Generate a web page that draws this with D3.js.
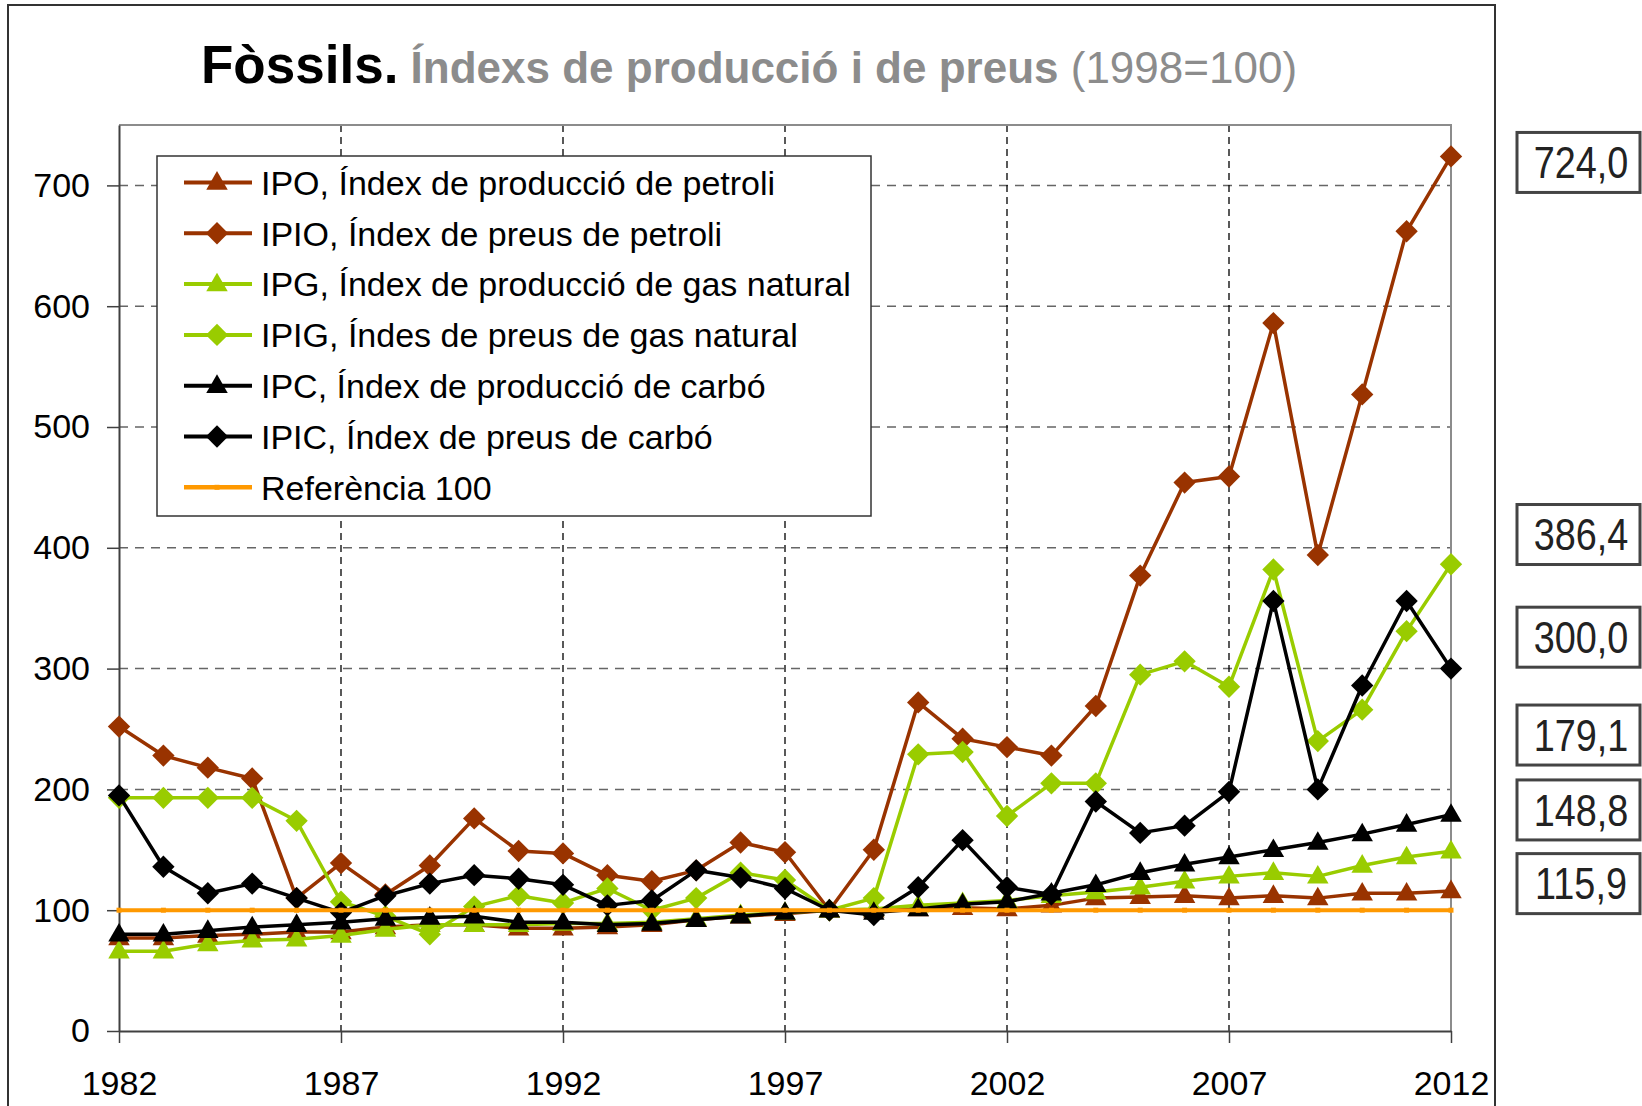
<!DOCTYPE html>
<html>
<head>
<meta charset="utf-8">
<script src="https://cdn.jsdelivr.net/npm/d3@7/dist/d3.min.js"></script>
<style>
  body { margin: 0; background: #fff; }
  svg { display: block; font-family: "Liberation Sans", Arial, sans-serif; }
</style>
</head>
<body>
<div id="chart"></div>
<script>
// --- data (1998 = 100) ---
var years = [1982, 1983, 1984, 1985, 1986, 1987, 1988, 1989, 1990, 1991,
             1992, 1993, 1994, 1995, 1996, 1997, 1998, 1999, 2000, 2001,
             2002, 2003, 2004, 2005, 2006, 2007, 2008, 2009, 2010, 2011, 2012];

var ipo  = [77, 77, 79, 80, 82, 82, 86, 88, 88, 85, 85, 86, 88, 92, 95, 97,
            100, 100, 101, 102, 101, 104, 110, 111, 112, 110, 112, 110, 114, 114, 115.9];
var ipio = [252, 228, 218, 209, 110, 139, 113, 137, 176, 149, 147, 129, 124, 133, 156, 148,
            100, 150, 272, 242, 235, 228, 269, 377, 454, 459, 586, 394, 527, 662, 724.0];
var ipg  = [66, 66, 72, 75, 76, 79, 84, 88, 88, 88, 89, 89, 90, 93, 96, 98,
            100, 101, 104, 106, 108, 112, 115, 119, 124, 128, 131, 128, 137, 144, 148.8];
var ipig = [193, 193, 193, 193, 174, 107, 95, 80, 103, 112, 106, 118, 100, 110, 131, 125,
            100, 110, 229, 231, 178, 205, 205, 295, 306, 285, 382, 240, 266, 331, 386.4];
var ipc  = [80, 80, 83, 86, 88, 90, 93, 94, 95, 90, 90, 88, 89, 92, 95, 98,
            100, 98, 101, 105, 107, 114, 121, 131, 138, 144, 150, 156, 163, 171, 179.1];
var ipic = [195, 136, 114, 122, 110, 98, 112, 122, 129, 126, 121, 104, 108, 133, 127, 118,
            100, 96, 119, 158, 119, 113, 190, 164, 170, 198, 356, 200, 286, 356, 300.0];
var ref  = [100, 100, 100, 100, 100, 100, 100, 100, 100, 100, 100, 100, 100, 100, 100, 100,
            100, 100, 100, 100, 100, 100, 100, 100, 100, 100, 100, 100, 100, 100, 100];

var yTicks = [0, 100, 200, 300, 400, 500, 600, 700];
var xTicks = [1982, 1987, 1992, 1997, 2002, 2007, 2012];

var brown = "#993300", green = "#99cc00", orange = "#ff9900";

var series = [
  { name: "IPO, Índex de producció de petroli", values: ipo, color: brown, marker: "tri" },
  { name: "IPIO, Índex de preus de petroli", values: ipio, color: brown, marker: "dia" },
  { name: "IPG, Índex de producció de gas natural", values: ipg, color: green, marker: "tri" },
  { name: "IPIG, Índes de preus de gas natural", values: ipig, color: green, marker: "dia" },
  { name: "IPC, Índex de producció de carbó", values: ipc, color: "#000", marker: "tri" },
  { name: "IPIC, Índex de preus de carbó", values: ipic, color: "#000", marker: "dia" },
  { name: "Referència 100", values: ref, color: orange, marker: "dot" }
];

// where the last-value boxes sit on the right (in axis units), top to bottom
var calloutSeries = [1, 3, 5, 4, 2, 0];
var calloutAt = [719, 411, 326, 245, 183, 122];

// --- layout ---
var svgWidth = 1642, svgHeight = 1106;
var plot = { left: 119, right: 1451, top: 125, bottom: 1031 };

var svg = d3.select("#chart").append("svg")
  .attr("width", svgWidth)
  .attr("height", svgHeight);

var x = d3.scaleLinear().domain([1982, 2012]).range([plot.left, plot.right]);
var y = d3.scaleLinear().domain([0, 750]).range([plot.bottom, plot.top]);

// outer frame
svg.append("path")
  .attr("d", "M8,1120V5H1495V1120")
  .attr("fill", "none")
  .attr("stroke", "#333")
  .attr("stroke-width", 2);

// title
var title = svg.append("text")
  .attr("x", 201)
  .attr("y", 83);
title.append("tspan")
  .attr("font-size", "53px").attr("font-weight", "bold").attr("fill", "#000")
  .text("Fòssils.");
title.append("tspan")
  .attr("font-size", "44px").attr("font-weight", "bold").attr("fill", "#8c8c8c")
  .text(" Índexs de producció i de preus");
title.append("tspan")
  .attr("font-size", "44px").attr("fill", "#8c8c8c")
  .text(" (1998=100)");

// gridlines
svg.append("g").selectAll("line")
  .data(yTicks.filter(d => d > 0))
  .enter().append("line")
  .attr("x1", plot.left).attr("x2", plot.right)
  .attr("y1", d => y(d)).attr("y2", d => y(d))
  .attr("stroke", "#666").attr("stroke-width", 1.5)
  .attr("stroke-dasharray", "9,7");

svg.append("g").selectAll("line")
  .data(xTicks.slice(1, -1))
  .enter().append("line")
  .attr("x1", d => x(d)).attr("x2", d => x(d))
  .attr("y1", plot.top).attr("y2", plot.bottom)
  .attr("stroke", "#000").attr("stroke-width", 1.3)
  .attr("stroke-dasharray", "7,5");

// plot area border (top and right)
svg.append("path")
  .attr("d", `M${plot.left},${plot.top}H${plot.right}V${plot.bottom}`)
  .attr("fill", "none")
  .attr("stroke", "#8c8c8c")
  .attr("stroke-width", 2);

// axes
var leftAxis = d3.axisLeft(y).tickValues(yTicks).tickSize(12).tickSizeOuter(0).tickPadding(17);
var bottomAxis = d3.axisBottom(x).tickValues(xTicks).tickFormat(d3.format("d"))
  .tickSize(12).tickSizeOuter(0).tickPadding(28);

var gy = svg.append("g")
  .attr("transform", `translate(${plot.left},0)`)
  .call(leftAxis);
var gx = svg.append("g")
  .attr("transform", `translate(0,${plot.bottom})`)
  .call(bottomAxis);

[gx, gy].forEach(function(g) {
  g.select(".domain").attr("stroke", "#404040").attr("stroke-width", 2);
  g.selectAll(".tick line").attr("stroke", "#404040").attr("stroke-width", 1.5);
  g.selectAll(".tick text")
    .attr("font-family", "'Liberation Sans', Arial, sans-serif")
    .attr("font-size", "34px")
    .attr("fill", "#000");
});

// markers
var diamond = d3.symbol().type(d3.symbolSquare).size(250);
var triangle = d3.symbol().type(d3.symbolTriangle).size(200);

function drawMarker(g, kind, color) {
  if (kind === "dia") {
    g.append("path").attr("d", diamond()).attr("transform", "rotate(45)").attr("fill", color);
  } else if (kind === "tri") {
    g.append("path").attr("d", triangle()).attr("transform", "translate(0,1)").attr("fill", color);
  } else {
    g.append("rect").attr("x", -2.5).attr("y", -2.5).attr("width", 5).attr("height", 5)
      .attr("fill", color);
  }
}

// legend
var legend = svg.append("g");
legend.append("rect")
  .attr("x", 157).attr("y", 156)
  .attr("width", 714).attr("height", 360)
  .attr("fill", "#fff")
  .attr("stroke", "#333")
  .attr("stroke-width", 1.5);

series.forEach(function(s, i) {
  var row = legend.append("g").attr("transform", `translate(0, ${182.5 + i * 50.8})`);
  row.append("line")
    .attr("x1", 184).attr("x2", 252)
    .attr("stroke", s.color)
    .attr("stroke-width", s.marker === "dot" ? 4.5 : 4);
  drawMarker(row.append("g").attr("transform", "translate(217,0)"), s.marker, s.color);
  row.append("text")
    .attr("x", 261).attr("dy", "0.36em")
    .attr("font-size", "34px")
    .attr("fill", "#000")
    .text(s.name);
});

// series
var line = d3.line()
  .x((d, i) => x(years[i]))
  .y(d => y(d));

series.forEach(function(s) {
  var g = svg.append("g");
  g.append("path")
    .datum(s.values)
    .attr("d", line)
    .attr("fill", "none")
    .attr("stroke", s.color)
    .attr("stroke-width", s.marker === "dot" ? 4 : 3.5)
    .attr("stroke-linejoin", "round");

  g.selectAll("g.pt")
    .data(s.values)
    .enter().append("g")
    .attr("class", "pt")
    .attr("transform", (d, i) => `translate(${x(years[i])},${y(d)})`)
    .each(function() { drawMarker(d3.select(this), s.marker, s.color); });
});

// last-value boxes on the right
var fmt = v => d3.format(".1f")(v).replace(".", ",");

calloutSeries.forEach(function(si, k) {
  var vals = series[si].values;
  var cy = y(calloutAt[k]);
  var box = svg.append("g").attr("transform", `translate(1517, ${cy})`);
  box.append("rect")
    .attr("x", 0).attr("y", -30)
    .attr("width", 123).attr("height", 60)
    .attr("fill", "#fff")
    .attr("stroke", "#444")
    .attr("stroke-width", 3);
  box.append("text")
    .attr("transform", "translate(64, 0) scale(0.86, 1)")
    .attr("text-anchor", "middle")
    .attr("dy", "0.36em")
    .attr("font-size", "44px")
    .attr("fill", "#222")
    .text(fmt(vals[vals.length - 1]));
});
</script>
</body>
</html>
